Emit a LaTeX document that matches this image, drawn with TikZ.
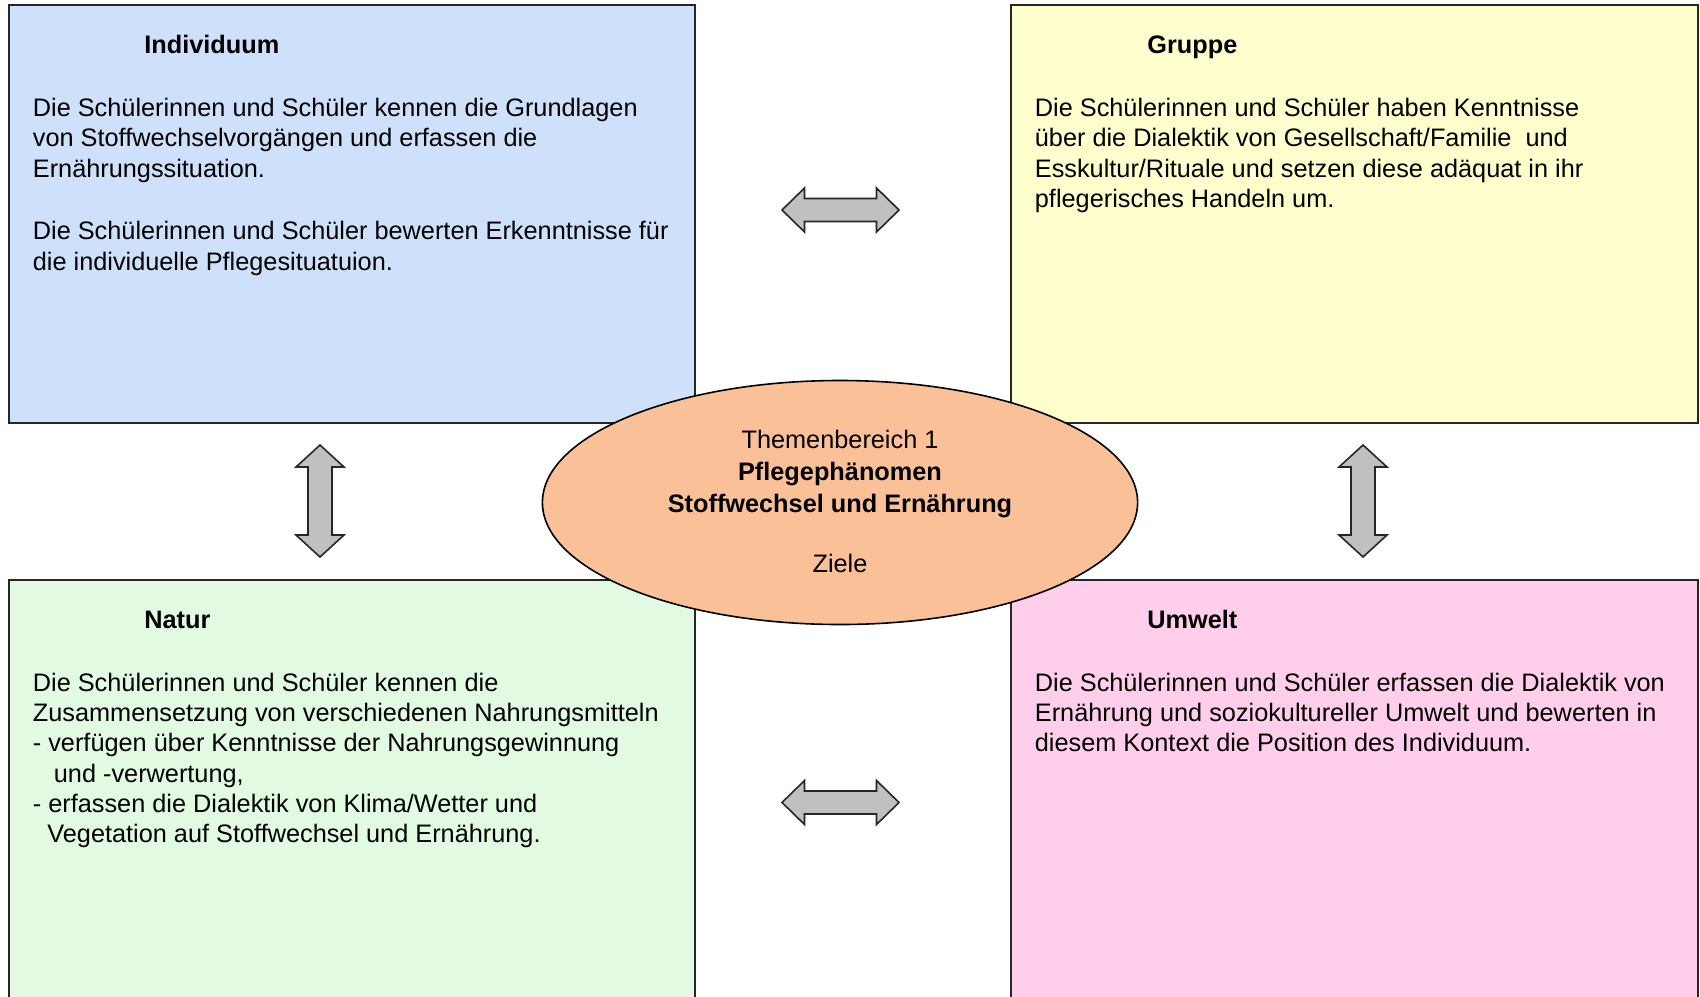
\documentclass[tikz,border=0pt]{standalone}
\usepackage{fontspec}
\setmainfont{Liberation Sans}
\usetikzlibrary{shapes.geometric}
\definecolor{cblue}{RGB}{206,224,250}
\definecolor{cyellow}{RGB}{255,255,206}
\definecolor{cgreen}{RGB}{226,250,226}
\definecolor{cpink}{RGB}{255,206,234}
\definecolor{cell}{RGB}{250,192,152}
\definecolor{carrow}{RGB}{192,192,192}
\tikzset{
  box/.style={draw=black!85, line width=1pt, rectangle, inner sep=0pt,
    minimum width=343pt, minimum height=209pt},
  body/.style={font=\fontsize{12.65}{15.2}\selectfont, inner sep=0pt, anchor=base west},
  ttl/.style={font=\fontsize{12.65}{15.2}\selectfont\bfseries, inner sep=0pt, anchor=base west},
  ctext/.style={font=\fontsize{12.65}{15.2}\selectfont, inner sep=0pt, anchor=base},
  cbold/.style={font=\fontsize{12.65}{15.2}\selectfont\bfseries, inner sep=0pt, anchor=base},
  arrowshape/.style={draw=black!85, line width=0.8pt, fill=carrow, line join=miter},
  harrow/.pic={
    \path[arrowshape] (-58.5,0) -- (-36,-22) -- (-36,-11.5) -- (36,-11.5) -- (36,-22)
      -- (58.5,0) -- (36,22) -- (36,11.5) -- (-36,11.5) -- (-36,22) -- cycle;
  },
  varrow/.pic={
    \path[arrowshape] (0,-56) -- (24,-34) -- (12,-34) -- (12,34) -- (24,34)
      -- (0,56) -- (-24,34) -- (-12,34) -- (-12,-34) -- (-24,-34) -- cycle;
  }
}
\begin{document}
\begin{tikzpicture}[x=0.5pt,y=-0.5pt]
\useasboundingbox (0,0) rectangle (1700,996);
\clip (0,0) rectangle (1700,996);
\fill[white] (0,0) rectangle (1700,996);

% boxes
\node[box, fill=cblue] (ind) at (352,214) {};
\node[box, fill=cyellow, minimum width=343.5pt] (grp) at (1354.5,214) {};
\node[box, fill=cgreen, minimum height=215pt] (nat) at (352,795) {};
\node[box, fill=cpink, minimum width=343.5pt, minimum height=215pt] (umw) at (1354.5,795) {};

% arrows
\pic (a1) at (840.5,210) {harrow};
\pic (a2) at (840.5,802.5) {harrow};
\pic (a3) at (320,501) {varrow};
\pic (a4) at (1363,501) {varrow};

% ellipse
\node[ellipse, draw=black, line width=0.8pt, fill=cell, inner sep=0pt,
  minimum width=297.6pt, minimum height=122pt] (ell) at (840,502.5) {};
\node[ctext] (e1) at (840,448) {Themenbereich 1};
\node[cbold] (e2) at (840,480.5) {Pflegephänomen};
\node[cbold] (e3) at (840,512) {Stoffwechsel und Ernährung};
\node[ctext] (e4) at (840,572.8) {Ziele};

% Individuum
\node[ttl] (t1) at (144,53.5) {Individuum};
\node[body] (i1) at (32.5,116.3) {Die Schülerinnen und Schüler kennen die Grundlagen};
\node[body] (i2) at (32.5,146.7) {von Stoffwechselvorgängen und erfassen die};
\node[body] (i3) at (32.5,177.1) {Ernährungssituation.};
\node[body] (i4) at (32.5,239.9) {Die Schülerinnen und Schüler bewerten Erkenntnisse für};
\node[body] (i5) at (32.5,270.3) {die individuelle Pflegesituatuion.};

% Gruppe
\node[ttl] (t2) at (1147,53.5) {Gruppe};
\node[body] (g1) at (1034.5,116.3) {Die Schülerinnen und Schüler haben Kenntnisse};
\node[body] (g2) at (1034.5,146.7) {über die Dialektik von Gesellschaft/Familie \ und};
\node[body] (g3) at (1034.5,177.1) {Esskultur/Rituale und setzen diese adäquat in ihr};
\node[body] (g4) at (1034.5,207.8) {pflegerisches Handeln um.};

% Natur
\node[ttl] (t3) at (144,628) {Natur};
\node[body] (n1) at (32.5,691) {Die Schülerinnen und Schüler kennen die};
\node[body] (n2) at (32.5,721.3) {Zusammensetzung von verschiedenen Nahrungsmitteln};
\node[body] (n3) at (32.5,751.7) {- verfügen über Kenntnisse der Nahrungsgewinnung};
\node[body] (n4) at (53.5,782) {und -verwertung,};
\node[body] (n5) at (32.5,812.4) {- erfassen die Dialektik von Klima/Wetter und};
\node[body] (n6) at (47,842.8) {Vegetation auf Stoffwechsel und Ernährung.};

% Umwelt
\node[ttl] (t4) at (1147,628) {Umwelt};
\node[body] (u1) at (1034.5,691) {Die Schülerinnen und Schüler erfassen die Dialektik von};
\node[body] (u2) at (1034.5,721.3) {Ernährung und soziokultureller Umwelt und bewerten in};
\node[body] (u3) at (1034.5,751.7) {diesem Kontext die Position des Individuum.};
\end{tikzpicture}
\end{document}
